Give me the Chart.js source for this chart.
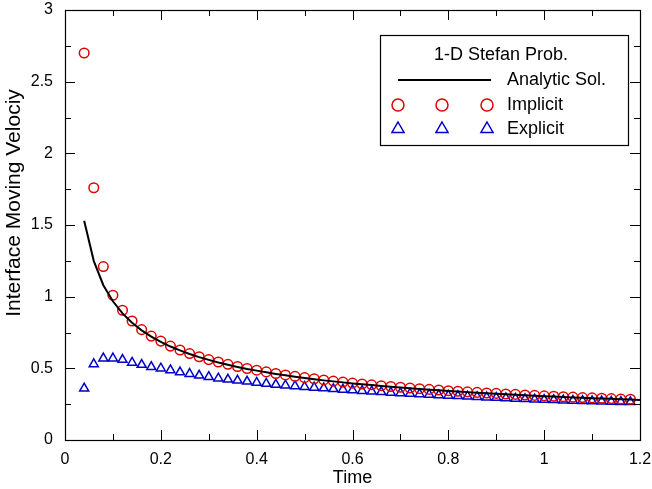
<!DOCTYPE html>
<html><head><meta charset="utf-8">
<script src="https://cdn.jsdelivr.net/npm/chart.js@4"></script>
<style>html,body{margin:0;padding:0;background:#fff}</style>
</head><body>
<canvas id="c" width="652" height="489"></canvas>
<script>
// ---- data ----
const timeAnalytic = [0.04,0.06,0.08,0.10,0.12,0.14,0.16,0.18,0.20,0.22,0.24,0.26,0.28,0.30,0.32,0.34,0.36,0.38,0.40,0.42,0.44,0.46,0.48,0.50,0.52,0.54,0.56,0.58,0.60,0.62,0.64,0.66,0.68,0.70,0.72,0.74,0.76,0.78,0.80,0.82,0.84,0.86,0.88,0.90,0.92,0.94,0.96,0.98,1.00,1.02,1.04,1.06,1.08,1.10,1.12,1.14,1.16,1.18,1.20];
const analytic = [1.53,1.25,1.08,0.968,0.883,0.818,0.765,0.721,0.684,0.652,0.625,0.600,0.578,0.559,0.541,0.525,0.510,0.496,0.484,0.472,0.461,0.451,0.442,0.433,0.424,0.416,0.409,0.402,0.395,0.389,0.383,0.377,0.371,0.366,0.361,0.356,0.351,0.347,0.342,0.338,0.334,0.330,0.326,0.323,0.319,0.316,0.312,0.309,0.306,0.303,0.300,0.297,0.294,0.292,0.289,0.287,0.284,0.282,0.279];
const timeNum = [0.04,0.06,0.08,0.10,0.12,0.14,0.16,0.18,0.20,0.22,0.24,0.26,0.28,0.30,0.32,0.34,0.36,0.38,0.40,0.42,0.44,0.46,0.48,0.50,0.52,0.54,0.56,0.58,0.60,0.62,0.64,0.66,0.68,0.70,0.72,0.74,0.76,0.78,0.80,0.82,0.84,0.86,0.88,0.90,0.92,0.94,0.96,0.98,1.00,1.02,1.04,1.06,1.08,1.10,1.12,1.14,1.16,1.18];
const implicit = [2.70,1.76,1.21,1.01,0.905,0.83,0.77,0.725,0.69,0.655,0.628,0.603,0.581,0.561,0.544,0.528,0.513,0.499,0.487,0.475,0.464,0.454,0.444,0.435,0.427,0.419,0.411,0.404,0.397,0.391,0.385,0.379,0.373,0.368,0.363,0.358,0.353,0.349,0.344,0.340,0.336,0.332,0.328,0.325,0.321,0.318,0.314,0.311,0.308,0.305,0.302,0.299,0.296,0.294,0.291,0.289,0.286,0.284];
const explicit = [0.36,0.53,0.57,0.57,0.56,0.54,0.525,0.51,0.50,0.487,0.473,0.462,0.45,0.44,0.43,0.422,0.415,0.408,0.40,0.393,0.387,0.381,0.376,0.371,0.366,0.361,0.356,0.352,0.347,0.343,0.339,0.335,0.331,0.327,0.324,0.320,0.317,0.313,0.310,0.307,0.304,0.301,0.298,0.295,0.292,0.289,0.286,0.283,0.281,0.279,0.277,0.275,0.273,0.271,0.270,0.268,0.266,0.265];
const xTicks = [0,0.2,0.4,0.6,0.8,1.0,1.2];
const xMinor = [0.1,0.3,0.5,0.7,0.9,1.1];
const yTicks = [0,0.5,1,1.5,2,2.5,3];
const yMinor = [0.25,0.75,1.25,1.75,2.25,2.75];
const legendTitle = '1-D Stefan Prob.';
const seriesNames = ['Analytic Sol.','Implicit','Explicit'];
const xTitle = 'Time';
const yTitle = 'Interface Moving Velociy';

const RED = '#dd0000', BLUE = '#0000c8';
const FONT = "'Liberation Sans', Arial, sans-serif";

const toPts = (xs, ys) => ys.map((y, i) => ({x: xs[i], y}));
const fmt = v => String(+Number(v).toFixed(2));

const frame = {
  id: 'frame',
  afterDraw(chart) {
    const ctx = chart.ctx, a = chart.chartArea;
    const xs = chart.scales.x, ys = chart.scales.y;
    ctx.save();
    ctx.strokeStyle = '#000';
    ctx.lineWidth = 1;
    ctx.beginPath();
    const tick = (v, len, isX) => {
      if (isX) {
        const px = Math.round(xs.getPixelForValue(v)) + 0.5;
        ctx.moveTo(px, a.bottom); ctx.lineTo(px, a.bottom - len);
        ctx.moveTo(px, a.top); ctx.lineTo(px, a.top + len);
      } else {
        const py = Math.round(ys.getPixelForValue(v)) + 0.5;
        ctx.moveTo(a.left, py); ctx.lineTo(a.left + len, py);
        ctx.moveTo(a.right, py); ctx.lineTo(a.right - len, py);
      }
    };
    xTicks.forEach(v => tick(v, 10, true));
    xMinor.forEach(v => tick(v, 6, true));
    yTicks.forEach(v => tick(v, 10, false));
    yMinor.forEach(v => tick(v, 6, false));
    ctx.stroke();
    ctx.lineWidth = 1.2;
    ctx.strokeRect(a.left + 0.5, a.top + 0.5, a.right - a.left, a.bottom - a.top);

    // y-axis title (placed as in the reference, not centred on the plot)
    ctx.save();
    ctx.fillStyle = '#000';
    ctx.font = '21px ' + FONT;
    ctx.textAlign = 'center';
    ctx.textBaseline = 'middle';
    ctx.translate(14, 203);
    ctx.rotate(-Math.PI / 2);
    ctx.fillText(yTitle, 0, 0);
    ctx.restore();

    // legend box
    const bx = 380, by = 35, bw = 248, bh = 110;
    ctx.fillStyle = '#fff';
    ctx.fillRect(bx, by, bw, bh);
    ctx.lineWidth = 1.2;
    ctx.strokeRect(bx + 0.5, by + 0.5, bw, bh);
    ctx.fillStyle = '#000';
    ctx.font = '18px ' + FONT;
    ctx.textBaseline = 'middle';
    ctx.textAlign = 'center';
    ctx.fillText(legendTitle, 501, 55);
    ctx.textAlign = 'left';
    ctx.fillText(seriesNames[0], 507, 80);
    ctx.fillText(seriesNames[1], 507, 105);
    ctx.fillText(seriesNames[2], 507, 129);
    ctx.lineWidth = 2;
    ctx.beginPath(); ctx.moveTo(398, 80); ctx.lineTo(491, 80); ctx.stroke();
    const mx = [398, 442, 487];
    ctx.lineWidth = 1.5;
    ctx.strokeStyle = RED;
    mx.forEach(x => { ctx.beginPath(); ctx.arc(x, 105, 6, 0, Math.PI * 2); ctx.stroke(); });
    ctx.strokeStyle = BLUE;
    mx.forEach(x => {
      const r = 7, y = 129;
      ctx.beginPath();
      ctx.moveTo(x, y - r);
      ctx.lineTo(x + r * 0.866, y + r * 0.5);
      ctx.lineTo(x - r * 0.866, y + r * 0.5);
      ctx.closePath(); ctx.stroke();
    });
    ctx.restore();
  }
};

new Chart(document.getElementById('c'), {
  type: 'scatter',
  data: {
    datasets: [
      {label: seriesNames[0], data: toPts(timeAnalytic, analytic), showLine: true, borderColor: '#000', borderWidth: 2, pointRadius: 0, fill: false, tension: 0},
      {label: seriesNames[1], data: toPts(timeNum, implicit), showLine: false, pointStyle: 'circle', pointRadius: 4.8, borderColor: RED, backgroundColor: 'rgba(0,0,0,0)', pointBorderWidth: 1.5},
      {label: seriesNames[2], data: toPts(timeNum, explicit), showLine: false, pointStyle: 'triangle', pointRadius: 5.2, borderColor: BLUE, backgroundColor: 'rgba(0,0,0,0)', pointBorderWidth: 1.5}
    ]
  },
  options: {
    responsive: false,
    devicePixelRatio: 1,
    animation: false,
    layout: {padding: {left: 0, right: 12, top: 10, bottom: 0}},
    plugins: {legend: {display: false}, tooltip: {enabled: false}},
    scales: {
      x: {
        type: 'linear', min: 0, max: 1.2,
        afterBuildTicks: s => { s.ticks = xTicks.map(v => ({value: v})); },
        afterFit: s => { s.height = 49; s.paddingLeft = 0; s.paddingRight = 0; },
        grid: {display: false, drawTicks: false},
        border: {display: false},
        ticks: {color: '#000', font: {family: FONT, size: 16}, padding: 10, maxRotation: 0, autoSkip: false, callback: fmt},
        title: {display: true, text: xTitle, color: '#000', font: {family: FONT, size: 18}, padding: {top: 0, bottom: 0}}
      },
      y: {
        type: 'linear', min: 0, max: 3,
        afterBuildTicks: s => { s.ticks = yTicks.map(v => ({value: v})); },
        afterFit: s => { s.width = 65; s.paddingTop = 0; s.paddingBottom = 0; },
        grid: {display: false, drawTicks: false},
        border: {display: false},
        ticks: {color: '#000', font: {family: FONT, size: 16}, padding: 12, autoSkip: false, callback: fmt},
        title: {display: false, text: yTitle}
      }
    }
  },
  plugins: [frame]
});
</script>
</body></html>
